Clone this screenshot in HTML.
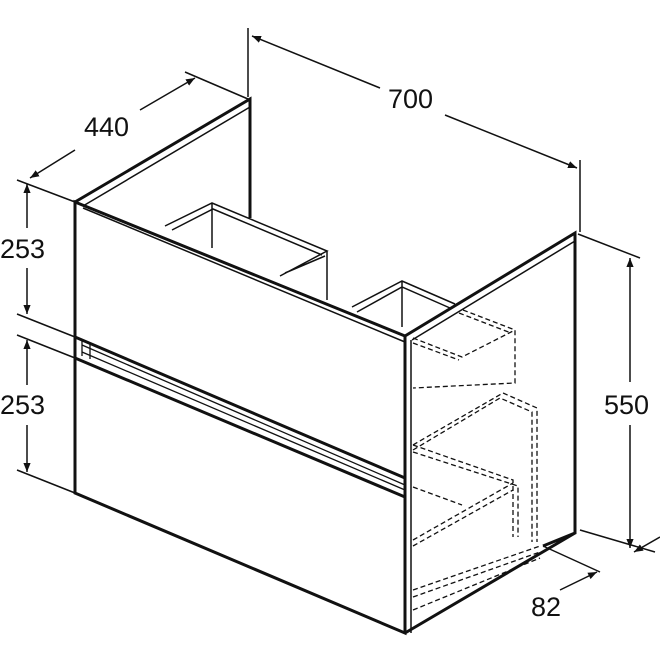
<!DOCTYPE html>
<html><head><style>html,body{margin:0;padding:0;background:#fff}svg{display:block}text{font-family:"Liberation Sans",sans-serif;font-size:27px;fill:#111}</style></head>
<body>
<svg width="660" height="660" viewBox="0 0 660 660" xmlns="http://www.w3.org/2000/svg">
<defs><marker id="a" viewBox="0 0 10 10" refX="10" refY="5" markerWidth="9" markerHeight="9" orient="auto-start-reverse" markerUnits="userSpaceOnUse"><path d="M0,1 L10,5 L0,9 z" fill="#111"/></marker></defs>
<g stroke="#111" fill="none" stroke-width="1.5">
<line x1="248" y1="28" x2="248" y2="97"/>
<line x1="580" y1="160" x2="580" y2="232"/>
<line x1="185" y1="72" x2="248" y2="99"/>
<line x1="17" y1="180" x2="75" y2="202"/>
<line x1="17" y1="314" x2="75" y2="337"/>
<line x1="17" y1="335" x2="75" y2="358"/>
<line x1="17" y1="470" x2="75" y2="493"/>
<line x1="578" y1="234" x2="640" y2="258"/>
<line x1="580" y1="530" x2="655" y2="552"/>
<line x1="543" y1="546" x2="600" y2="572"/>
<line x1="252" y1="36" x2="380" y2="88" marker-start="url(#a)"/>
<line x1="445" y1="115" x2="577" y2="168" marker-end="url(#a)"/>
<line x1="30" y1="178" x2="75" y2="150" marker-start="url(#a)"/>
<line x1="140" y1="110" x2="195" y2="78" marker-end="url(#a)"/>
<line x1="27" y1="184" x2="27" y2="228" marker-start="url(#a)"/>
<line x1="27" y1="268" x2="27" y2="314" marker-end="url(#a)"/>
<line x1="27" y1="340" x2="27" y2="385" marker-start="url(#a)"/>
<line x1="27" y1="425" x2="27" y2="472" marker-end="url(#a)"/>
<line x1="630" y1="258" x2="630" y2="382" marker-start="url(#a)"/>
<line x1="630" y1="425" x2="630" y2="548" marker-end="url(#a)"/>
<line x1="560" y1="590" x2="597" y2="572" marker-end="url(#a)"/>
<line x1="634" y1="552" x2="660" y2="537" marker-start="url(#a)"/>
<!-- interior boxes -->
<path d="M165,226 L212,203 L327,251 L280,276 M212,203 L212,248 M327,251 L327,300 M285,273 L325,256"/>
<path d="M172,230 L213,209 L322,255"/>
<path d="M352,307 L402,281 L455,304 M402,281 L402,327 M357,312 L402,287 L450,308"/>
<g stroke-dasharray="5,3" stroke-width="1.3">
<path d="M463,310 L515,330 L515,383 L413,388 M459,313 L511,333"/>
<path d="M413,338 L462,357 L515,330 M413,343 L459,360"/>
<path d="M413,445 L503,393 L537,408 L537,542 M413,450 L500,398 L532,412 L532,542"/>
<path d="M413,445 L513,480 L513,537 M413,452 L518,486 L518,537"/>
<path d="M413,487 L462,505 M413,540 L513,483 M413,546 L513,490"/>
<path d="M413,590 L540,546 M413,597 L540,552 M413,610 L540,558"/>
</g>
</g>
<g stroke="#111" fill="none" stroke-width="3" stroke-linejoin="miter">
<path d="M75,202 L250,99 L250,218"/>
<path d="M83,206 L250,107" stroke-width="1.5"/>
<path d="M75,202 L405,336 L405,633 L75,493 Z"/>
<path d="M83,208 L405,342" stroke-width="1.5"/>
<path d="M405,336 L575,233 L575,533 L543,546 M575,533 L405,633"/>
<path d="M412,340 L575,241" stroke-width="1.5"/>
<line x1="411" y1="340" x2="411" y2="633" stroke-width="1.5"/>
<path d="M75,337 L405,478"/>
<path d="M75,358 L405,497"/>
<path d="M82,345 L405,485 M82,352 L405,490" stroke-width="1.3"/>
<path d="M82,340 L82,356 M90,343 L90,359" stroke-width="1.3"/>
</g>
<text x="388" y="108">700</text>
<text x="84" y="136">440</text>
<text x="0" y="258">253</text>
<text x="0" y="414">253</text>
<text x="604" y="414">550</text>
<text x="531" y="616">82</text>
</svg>
</body></html>
